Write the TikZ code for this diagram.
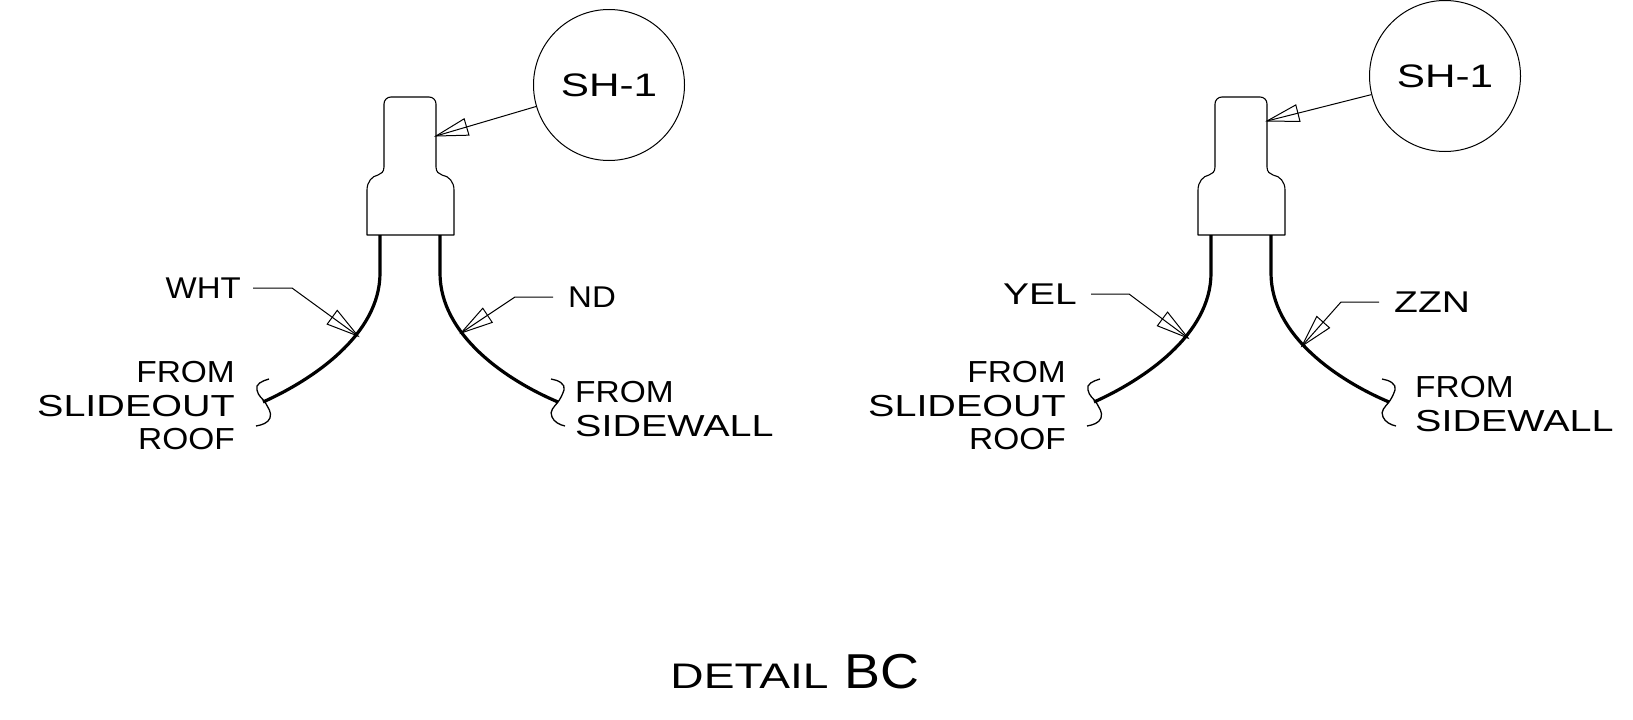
\documentclass[tikz,border=0pt]{standalone}
\usepackage{fontspec}
\setmainfont{Liberation Sans}
\newfontfamily\fa[FakeStretch=1.1]{Liberation Sans}
\newfontfamily\fb[FakeStretch=1.3]{Liberation Sans}
\usetikzlibrary{calc, positioning}

\tikzset{
  leadline/.style={draw=black, line width=1pt},
  wireline/.style={draw=black, line width=3.2pt},
  bodyline/.style={draw=black, line width=1.1pt, line join=round},
  squiggle/.style={draw=black, line width=1.3pt},
  colorlabel/.style={inner xsep=14pt, inner ysep=0pt, font=\fontsize{30}{33.5}\selectfont},
  fromlabel/.style={inner sep=0pt, align=#1, font=\fontsize{30.4}{33.5}\selectfont},
  tagcircle/.style={draw=black, circle, line width=1pt, minimum size=151pt, inner sep=0pt,
    font=\fb\fontsize{32.5}{34}\selectfont},
}

% open leader head, tip at #1, pointing away from #2
\newcommand{\openhead}[2]{
  \draw[leadline] (#1) -- ($(#1)!33pt!15:(#2)$) -- ($(#1)!33pt!-15:(#2)$) -- cycle;
}

\begin{document}
\begin{tikzpicture}[x=1pt, y=-1pt]
  \useasboundingbox (0,0) rectangle (1633,720);

  % wire nut and both wires, same for left and right
  \foreach \side/\off in {a/0, b/831} {
    \begin{scope}[xshift=\off pt]
      \draw[bodyline] (367,235) -- (367,190)
        .. controls (367,182) and (372,176) .. (378,175)
        .. controls (381,174) and (384,172) .. (384,167)
        -- (384,104) .. controls (384,100) and (387,97) .. (391,97)
        -- (429,97) .. controls (433,97) and (436,100) .. (436,104)
        -- (436,167) .. controls (436,172) and (439,174) .. (442,175)
        .. controls (449,176) and (454,182) .. (454,190)
        -- (454,235) -- cycle;
      \draw[wireline] (380,235) -- (380,273) .. controls (380,335) and (312,380) .. (263,402);
      \draw[wireline] (440,235) -- (440,273) .. controls (440,335) and (506,380) .. (558,402);
      \draw[squiggle] (269,379) .. controls (262,381) and (255,384) .. (257,390)
        .. controls (258,396) and (263,399) .. (265,402)
        .. controls (268,408) and (272,412) .. (270,418)
        .. controls (268,423) and (262,425) .. (256,426);
      \draw[squiggle] (551,379) .. controls (558,380) and (566,384) .. (564,390)
        .. controls (562,396) and (560,399) .. (558,402)
        .. controls (554,407) and (549,411) .. (552,417)
        .. controls (554,422) and (560,425) .. (565,426);
      \node[fromlabel=right, anchor=east] (slideout\side) at (235,406) {\fa FROM\\\fb SLIDEOUT\\\fa ROOF};
    \end{scope}
  }

  % left detail
  \node[tagcircle] (sha) at (609,85) {SH-1};
  \coordinate (tipsha) at (436,136);
  \draw[leadline] (sha) -- (tipsha);
  \openhead{tipsha}{sha}

  \node[colorlabel, anchor=east, inner xsep=12pt] (wht) at (253,288) {\fa WHT};
  \coordinate (kneewht) at (292,288);
  \coordinate (tipwht) at (358,336);
  \draw[leadline] (wht) -- (kneewht) -- (tipwht);
  \openhead{tipwht}{kneewht}

  \node[colorlabel, anchor=west, inner xsep=15pt] (nd) at (553,297) {\fa ND};
  \coordinate (kneend) at (515,297);
  \coordinate (tipnd) at (461,333);
  \draw[leadline] (nd) -- (kneend) -- (tipnd);
  \openhead{tipnd}{kneend}

  \node[fromlabel=left, anchor=west] (sidewalla) at (575,409) {\fa FROM\\\fb SIDEWALL};

  % right detail
  \node[tagcircle] (shb) at (1445,76) {SH-1};
  \coordinate (tipshb) at (1267,121);
  \draw[leadline] (shb) -- (tipshb);
  \openhead{tipshb}{shb}

  \node[colorlabel, anchor=east] (yel) at (1091,294) {\fb YEL};
  \coordinate (kneeyel) at (1129,294);
  \coordinate (tipyel) at (1188,338);
  \draw[leadline] (yel) -- (kneeyel) -- (tipyel);
  \openhead{tipyel}{kneeyel}

  \node[colorlabel, anchor=west, inner xsep=15pt] (zzn) at (1379,302) {\fb ZZN};
  \coordinate (kneezzn) at (1341,302);
  \coordinate (tipzzn) at (1302,346);
  \draw[leadline] (zzn) -- (kneezzn) -- (tipzzn);
  \openhead{tipzzn}{kneezzn}

  \node[fromlabel=left, anchor=west] (sidewallb) at (1415,404) {\fa FROM\\\fb SIDEWALL};

  % title
  \node[inner sep=0pt, anchor=base] (title) at (795,688)
    {{\fb\fontsize{35.5}{36}\selectfont DETAIL}\hspace*{16pt}{\fa\fontsize{49}{50}\selectfont BC}};
\end{tikzpicture}
\end{document}
